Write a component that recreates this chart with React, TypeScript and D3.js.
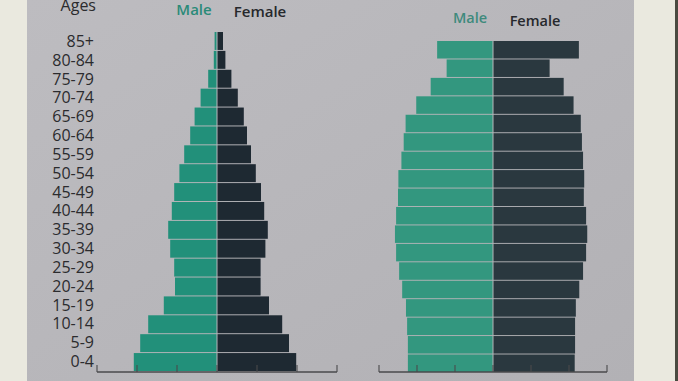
import React from "react";
import * as d3 from "d3";

const ages = ["85+","80-84","75-79","70-74","65-69","60-64","55-59","50-54","45-49","40-44","35-39","30-34","25-29","20-24","15-19","10-14","5-9","0-4"];
const leftMale = [0.06,0.08,0.22,0.41,0.56,0.67,0.82,0.94,1.07,1.13,1.22,1.17,1.07,1.05,1.33,1.72,1.92,2.08];
const leftFemale = [0.15,0.21,0.36,0.52,0.67,0.75,0.85,0.97,1.1,1.18,1.27,1.21,1.09,1.09,1.3,1.63,1.8,1.98];
const rightMale = [1.47,1.22,1.64,2.02,2.3,2.35,2.41,2.49,2.5,2.55,2.58,2.55,2.47,2.39,2.29,2.26,2.24,2.24];
const rightFemale = [2.26,1.49,1.86,2.12,2.31,2.34,2.37,2.4,2.39,2.45,2.48,2.45,2.37,2.27,2.18,2.16,2.16,2.15];
const axisTicks = [-3,-2,-1,0,1,2,3];

const W = 678, H = 381;
const MALE = "#22907a";
const MALE_R = "#33977f";
const FEMALE = "#1e2932";
const FEMALE_R = "#2a383f";
const FONT = "'Open Sans', 'Noto Sans', sans-serif";

function Pyramid({ male, female, cx, unit, y0, y1, axisY, mColor, fColor }: any) {
  const x = d3.scaleLinear().domain([-3, 3]).range([cx - 3 * unit, cx + 3 * unit]);
  const y = d3.scaleBand().domain(ages).range([y0, y1]).paddingInner(0.05);
  return (
    <g>
      {ages.map((a, i) => (
        <g key={a}>
          <rect x={x(-male[i])} y={y(a)} width={x(0) - x(-male[i]) - 0.5} height={y.bandwidth()} fill={mColor} />
          <rect x={x(0) + 0.5} y={y(a)} width={x(female[i]) - x(0) - 0.5} height={y.bandwidth()} fill={fColor} />
        </g>
      ))}
      <line x1={x(-3)} x2={x(3)} y1={axisY} y2={axisY} stroke="#4a4a4c" strokeWidth={1.3} />
      {axisTicks.map((t) => (
        <line key={t} x1={x(t)} x2={x(t)} y1={axisY} y2={axisY - 7} stroke="#4a4a4c" strokeWidth={1.1} />
      ))}
    </g>
  );
}

export default function App() {
  const yL = d3.scaleBand().domain(ages).range([32, 371]);
  return (
    <svg width={W} height={H} style={{ position: "absolute", left: 0, top: 0 }}>
      <defs>
        <linearGradient id="bg" x1="0" y1="0" x2="1" y2="1">
          <stop offset="0" stopColor="#bdbcc0" />
          <stop offset="1" stopColor="#b2b1b5" />
        </linearGradient>
      </defs>
      <rect x={0} y={0} width={W} height={H} fill="#eae9df" />
      <rect x={27} y={0} width={607} height={H} fill="url(#bg)" />
      <rect x={675} y={0} width={3} height={H} fill="#4a4a40" />
      <text x={96} y={11} textAnchor="end" fontFamily={FONT} fontSize={16} fill="#2b2b2e">Ages</text>
      {ages.map((a) => (
        <text key={a} x={94} y={(yL(a) as number) + yL.bandwidth() / 2 + 5.5} textAnchor="end" fontFamily={FONT} fontSize={16} fill="#2b2b2e">{a}</text>
      ))}
      <text x={194} y={15} textAnchor="middle" fontFamily={FONT} fontSize={15} fontWeight={600} fill="#2a8a78">Male</text>
      <text x={260} y={17} textAnchor="middle" fontFamily={FONT} fontSize={15} fontWeight={600} fill="#26282c">Female</text>
      <text x={470} y={23} textAnchor="middle" fontFamily={FONT} fontSize={14.5} fontWeight={600} fill="#3e8a7c">Male</text>
      <text x={535} y={26} textAnchor="middle" fontFamily={FONT} fontSize={14.5} fontWeight={600} fill="#26282c">Female</text>
      <Pyramid male={leftMale} female={leftFemale} cx={217} unit={40} y0={32} y1={371} axisY={372} mColor={MALE} fColor={FEMALE} />
      <Pyramid male={rightMale} female={rightFemale} cx={493} unit={38} y0={41} y1={372} axisY={372} mColor={MALE_R} fColor={FEMALE_R} />
    </svg>
  );
}
